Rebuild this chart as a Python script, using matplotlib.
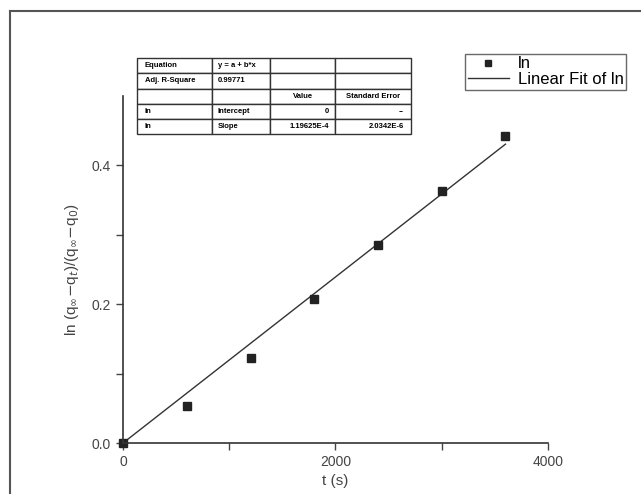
import numpy as np
import matplotlib
matplotlib.use("Agg")
import matplotlib.pyplot as plt
from matplotlib.lines import Line2D

plt.rcParams["font.family"] = ["Liberation Sans", "DejaVu Sans"]

# data
t_s = [0, 600, 1200, 1800, 2400, 3000, 3600]
ln_ratio = [0.0, 0.053, 0.122, 0.207, 0.285, 0.363, 0.443]
x_ticks = [0, 1000, 2000, 3000, 4000]
x_ticklabels = ["0", "", "2000", "", "4000"]
y_ticks = [0.0, 0.1, 0.2, 0.3, 0.4]
y_ticklabels = ["0.0", "", "0.2", "", "0.4"]

table_rows = [
    ["Equation", "y = a + b*x", "", ""],
    ["Adj. R-Square", "0.99771", "", ""],
    ["", "", "Value", "Standard Error"],
    ["ln", "Intercept", "0", "--"],
    ["ln", "Slope", "1.19625E-4", "2.0342E-6"],
]

x = np.array(t_s, dtype=float)
y = np.array(ln_ratio)
slope = np.sum(x * y) / np.sum(x * x)  # fit through origin
fit_x = np.array([x.min(), x.max()])

fig = plt.figure(figsize=(6.41, 4.94), dpi=100)
ax = fig.add_axes([0.1919, 0.1032, 0.663, 0.7025])

ax.plot(fit_x, slope * fit_x, color="#333333", lw=1.0, label="Linear Fit of ln")
ax.plot(x, y, "s", ms=6, color="#222222", label="ln", clip_on=False)

ax.set_xlim(0, 4000)
ax.set_ylim(0, 0.5)
ax.set_xticks(x_ticks)
ax.set_xticklabels(x_ticklabels)
ax.set_yticks(y_ticks)
ax.set_yticklabels(y_ticklabels)
ax.tick_params(direction="out", length=5, width=1, labelsize=10, colors="#444444")
for s in ("top", "right"):
    ax.spines[s].set_visible(False)
for s in ("left", "bottom"):
    ax.spines[s].set_color("#333333")
    ax.spines[s].set_linewidth(1.2)

ax.set_xlabel("t (s)", fontsize=11, color="#444444", labelpad=4)
ax.set_ylabel(r"ln (q$_{\infty}$$-$q$_t$)/(q$_{\infty}$$-$q$_0$)", fontsize=11,
              color="#444444", labelpad=8)

handles, labels = ax.get_legend_handles_labels()
leg = fig.legend(handles[::-1], labels[::-1], loc="upper left",
                 bbox_to_anchor=(465 / 641, 1 - 54 / 494), fontsize=12,
                 frameon=True, fancybox=False, edgecolor="#444444",
                 borderpad=0.15, handlelength=2.5, labelspacing=0.05,
                 handletextpad=0.5, borderaxespad=0, markerscale=0.8)
leg.get_frame().set_linewidth(1.0)

tbl = ax.table(cellText=table_rows, cellLoc="center",
               colWidths=[75, 58, 65, 76],
               bbox=[0.033, 0.89, 0.645, 0.219])
tbl.auto_set_font_size(False)
tbl.set_fontsize(5.5)
aligns = ["left", "left", "right", "right"]
for (r, c), cell in tbl.get_celld().items():
    cell.set_linewidth(1.0)
    cell.set_edgecolor("#333333")
    cell.get_text().set_fontweight("bold")
    if r != 2:
        cell.set_text_props(ha=aligns[c])
        cell._loc = aligns[c]

# outer frame of the original figure
fig.add_artist(Line2D([10 / 641, 1.0], [1 - 11 / 494] * 2, color="#555555", lw=1.5))
fig.add_artist(Line2D([10 / 641] * 2, [0.0, 1 - 11 / 494], color="#555555", lw=1.5))

fig.savefig("out.png", dpi=100)
